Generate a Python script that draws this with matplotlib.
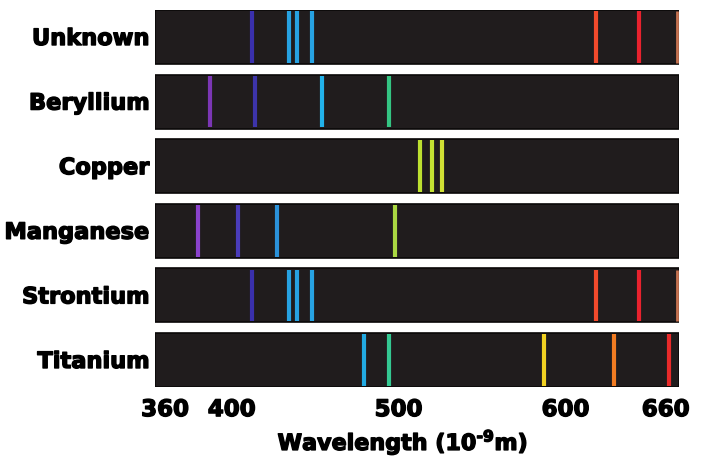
import matplotlib
matplotlib.use("Agg")
import matplotlib.pyplot as plt
import matplotlib.patheffects as pe

# ---- data ----
elements = ["Unknown", "Beryllium", "Copper", "Manganese", "Strontium", "Titanium"]

unknown_nm = [412, 434, 439, 448, 618, 644, 667]
unknown_col = ["#3a30ac", "#27a2e2", "#27a2e2", "#27a2e2", "#f24a2c", "#e8222e", "#c87452"]

beryllium_nm = [387, 414, 454, 494]
beryllium_col = ["#7b36b4", "#3d34aa", "#22b2ea", "#34c482"]

copper_nm = [513, 520, 526]
copper_col = ["#bde030", "#c4e232", "#d0e034"]

manganese_nm = [380, 404, 427, 498]
manganese_col = ["#8a42cc", "#4a3cba", "#2b92da", "#aad842"]

strontium_nm = [412, 434, 439, 448, 618, 644, 667]
strontium_col = ["#3a30ac", "#27a2e2", "#27a2e2", "#27a2e2", "#f24a2c", "#e8222e", "#c87452"]

titanium_nm = [479, 494, 587, 629, 662]
titanium_col = ["#22aae2", "#34c892", "#f2d222", "#f27c22", "#e82a2a"]

tick_values = [360, 400, 500, 600, 660]
x_min, x_max = 354, 668

lines = [unknown_nm, beryllium_nm, copper_nm, manganese_nm, strontium_nm, titanium_nm]
colors = [unknown_col, beryllium_col, copper_col, manganese_col, strontium_col, titanium_col]

plt.rcParams["mathtext.default"] = "bf"
fig = plt.figure(figsize=(7.08, 4.66), dpi=100)
ax = fig.add_axes([155 / 708, 1 - 387 / 466, 524 / 708, 377 / 466])

h = 0.836
for i, name in enumerate(elements):
    ax.barh(i, x_max - x_min, left=x_min, height=h, color="#201c1d",
            edgecolor="#0a0808", linewidth=1.2, zorder=1)
    for nm, c in zip(lines[i], colors[i]):
        lw = 2.0 if nm >= 666 else 3.0
        ax.vlines(nm, i - h / 2 + 0.02, i + h / 2 - 0.02, color=c, lw=lw, zorder=2)

heavy = [pe.withStroke(linewidth=1.0, foreground="black")]

ax.set_xlim(x_min, x_max)
ax.set_ylim(5 + h / 2, -h / 2)
ax.set_yticks(range(len(elements)))
ax.set_yticklabels(elements, fontsize=16.2, fontweight="bold")
ax.set_xticks(tick_values)
ax.set_xticklabels([str(v) for v in tick_values], fontsize=16.5, fontweight="bold")
ax.tick_params(axis="both", length=0)
ax.tick_params(axis="x", pad=8)
ax.tick_params(axis="y", pad=4)
for lab in ax.get_xticklabels() + ax.get_yticklabels():
    lab.set_path_effects(heavy)
for s in ax.spines.values():
    s.set_visible(False)

ax.set_xlabel("Wavelength (10$^{\u2010 9}$m)", fontsize=16, fontweight="bold")
ax.xaxis.label.set_path_effects(heavy)
ax.xaxis.set_label_coords(0.473, -0.108)

fig.savefig("out.png", dpi=100)
